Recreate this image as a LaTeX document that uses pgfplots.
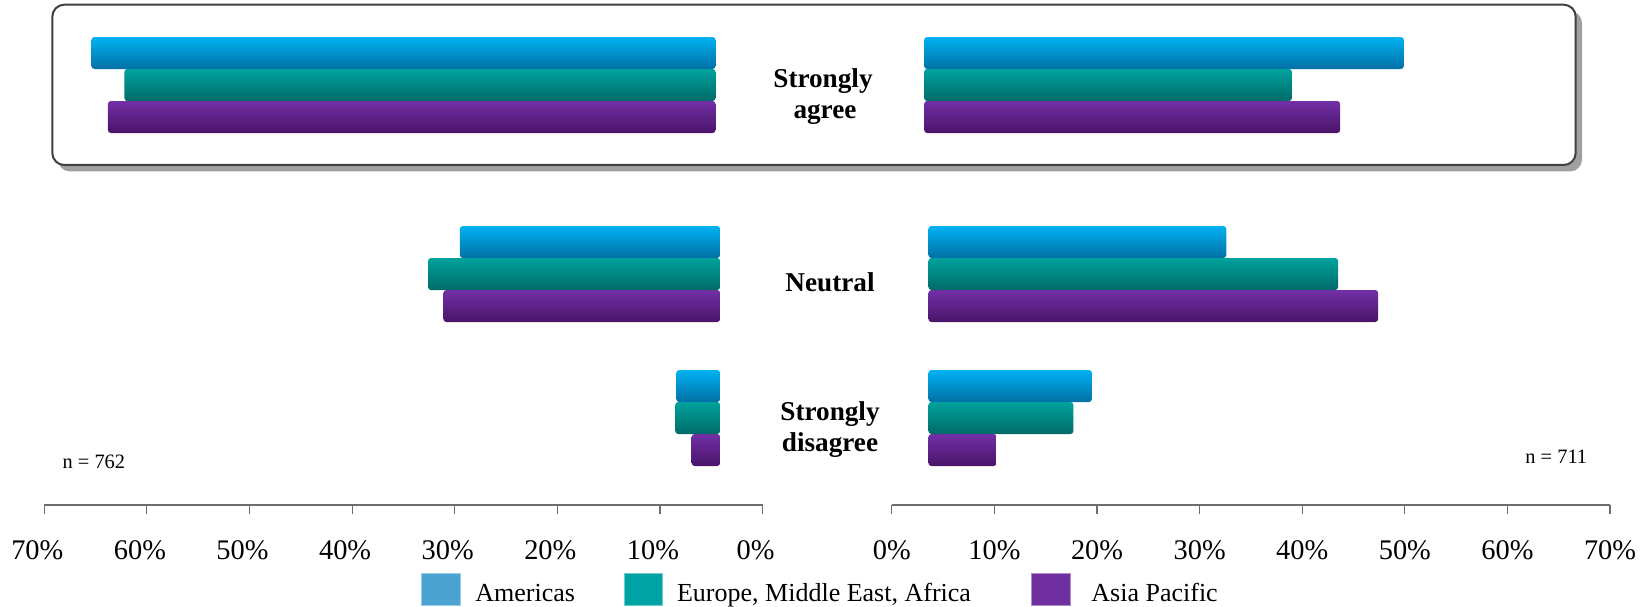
\documentclass[border=0pt]{standalone}
\usepackage{fontspec}
\setmainfont{Liberation Serif}
\usepackage{pgfplots}
\pgfplotsset{compat=1.18}

% bar gradients (top -> bottom) and flat legend swatches
\definecolor{amTop}{HTML}{00B2F2}
\definecolor{amBot}{HTML}{0070A4}
\definecolor{euTop}{HTML}{00A29E}
\definecolor{euBot}{HTML}{006A68}
\definecolor{apTop}{HTML}{7230A6}
\definecolor{apBot}{HTML}{4A1468}
\definecolor{amLeg}{HTML}{4AA3D0}
\definecolor{euLeg}{HTML}{00A3A3}
\definecolor{apLeg}{HTML}{7030A0}
\definecolor{axgray}{HTML}{6E6E6E}
\definecolor{boxline}{HTML}{404040}
\definecolor{shadowgray}{HTML}{A0A0A0}

\pgfplotsset{
  panel/.style={scale only axis, x=5.13bp, y=0.5bp, ymin=0, ymax=505,
    enlargelimits=false, xmax=70},
  % left panel: bottom-left corner; right panel: bottom-right corner
  leftpanel/.style={panel, at={(22.15bp,-252.5bp)}, anchor=south west, x dir=reverse},
  rightpanel/.style={panel, at={(805bp,-252.5bp)}, anchor=south east},
  barpanel/.style={hide axis, clip=true},
  tickpanel/.style={xmin=0, axis x line=bottom, axis y line=none,
    axis line style={-, draw=axgray, line width=0.6bp},
    xtick={0,10,...,70},
    xticklabels={0\%,10\%,20\%,30\%,40\%,50\%,60\%,70\%},
    xtick align=outside, major tick length=4.5bp,
    tick style={axgray, line width=0.6bp},
    ytick=\empty},
  rbar/.style={xbar, bar shift=0pt, bar width=16bp, draw=none,
    rounded corners=1.5bp},
  am/.style={rbar, top color=amTop, bottom color=amBot},
  eu/.style={rbar, top color=euTop, bottom color=euBot},
  ap/.style={rbar, top color=apTop, bottom color=apBot},
}

\newcommand{\tickfont}{\fontsize{14.2bp}{16bp}\selectfont}
\newcommand{\catfont}{\bfseries\fontsize{13.6bp}{15.5bp}\selectfont}
\newcommand{\legfont}{\fontsize{13bp}{15bp}\selectfont}
\newcommand{\nfont}{\fontsize{10.2bp}{12bp}\selectfont}

\begin{document}
\begin{tikzpicture}[x=0.5bp, y=-0.5bp]
\path[use as bounding box] (0,0) rectangle (1652,607);

% highlighted "Strongly agree" panel with drop shadow
\fill[shadowgray, rounded corners=6bp] (58,11) rectangle (1582,171.5);
\draw[boxline, fill=white, line width=1bp, rounded corners=6bp]
  (52.3,4.7) rectangle (1575.7,165);

% ---------------- left panel (n = 762) ----------------
\begin{axis}[leftpanel, tickpanel,
  xticklabel style={font=\tickfont, anchor=base, yshift=-22.8bp, xshift=-3.5bp}]
\end{axis}

% Strongly agree
\begin{axis}[leftpanel, barpanel, xmin=4.58]
\addplot[am] coordinates {(65.4,452)};
\addplot[eu] coordinates {(62.2,420)};
\addplot[ap] coordinates {(63.8,388)};
\end{axis}

% Neutral and Strongly disagree
\begin{axis}[leftpanel, barpanel, xmin=4.13]
\addplot[am] coordinates {(29.5,263)};
\addplot[eu] coordinates {(32.6,231)};
\addplot[ap] coordinates {(31.1,199)};
\addplot[am] coordinates {(8.4,119)};
\addplot[eu] coordinates {(8.5,87)};
\addplot[ap] coordinates {(6.9,55)};
\end{axis}

% ---------------- right panel (n = 711) ----------------
\begin{axis}[rightpanel, tickpanel,
  xticklabel style={font=\tickfont, anchor=base, yshift=-22.8bp}]
\end{axis}

\begin{axis}[rightpanel, barpanel, xmin=3.15]
\addplot[am] coordinates {(49.9,452)};
\addplot[eu] coordinates {(39.0,420)};
\addplot[ap] coordinates {(43.7,388)};
\end{axis}

\begin{axis}[rightpanel, barpanel, xmin=3.57]
\addplot[am] coordinates {(32.6,263)};
\addplot[eu] coordinates {(43.5,231)};
\addplot[ap] coordinates {(47.4,199)};
\addplot[am] coordinates {(19.5,119)};
\addplot[eu] coordinates {(17.7,87)};
\addplot[ap] coordinates {(10.2,55)};
\end{axis}

% category labels between the panels
\node[anchor=base, font=\catfont, inner sep=0] at (823,87.3) {Strongly};
\node[anchor=base, font=\catfont, inner sep=0] at (825,118.3) {agree};
\node[anchor=base, font=\catfont, inner sep=0] at (830,291.7) {Neutral};
\node[anchor=base, font=\catfont, inner sep=0] at (830,420) {Strongly};
\node[anchor=base, font=\catfont, inner sep=0] at (830,451.7) {disagree};

% sample sizes
\node[anchor=base west, font=\nfont, inner sep=0] at (62.2,468.3) {n = 762};
\node[anchor=base west, font=\nfont, inner sep=0] at (1525,463.3) {n = 711};

% legend
\filldraw[fill=amLeg, draw=amLeg!55!white, line width=0.5bp] (421.7,573.3) rectangle (460,605);
\node[anchor=base west, font=\legfont, inner sep=0] at (475,601) {Americas};
\filldraw[fill=euLeg, draw=euLeg!55!white, line width=0.5bp] (624,573.3) rectangle (662.3,605);
\node[anchor=base west, font=\legfont, inner sep=0] at (676.7,601) {Europe, Middle East, Africa};
\filldraw[fill=apLeg, draw=apLeg!55!white, line width=0.5bp] (1031.7,573.3) rectangle (1070.3,605);
\node[anchor=base west, font=\legfont, inner sep=0] at (1091,601) {Asia Pacific};
\end{tikzpicture}
\end{document}
